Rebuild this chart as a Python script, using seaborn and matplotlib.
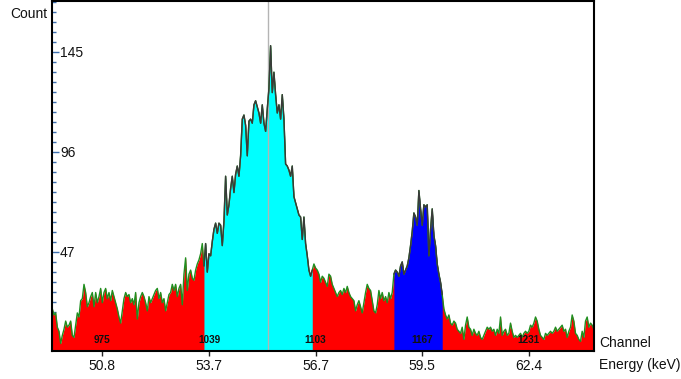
import numpy as np
import pandas as pd
import matplotlib
matplotlib.use("Agg")
import matplotlib.pyplot as plt
import seaborn as sns
from matplotlib.ticker import FixedLocator

# Spectrum: counts per channel, starting at channel 944
first_channel = 944
counts = [
    20, 19, 16, 17, 10, 8, 2, 6, 9, 13, 10, 11, 13, 6, 5, 11, 17, 15,
    23, 24, 31, 27, 20, 22, 25, 27, 20, 27,
    22, 25, 29, 22, 27, 29, 24, 27, 23, 28,
    25, 22, 19, 15, 12, 18, 24, 27, 25, 26,
    22, 24, 21, 27, 14, 22, 25, 27, 25, 22,
    18, 25, 22, 24, 26, 28, 29, 24, 27, 22,
    24, 18, 22, 26, 27, 31, 28, 31, 25, 29,
    31, 21, 36, 44, 28, 36, 38, 34, 33, 38,
    41, 43, 46, 51,
    40, 51, 37, 46, 45, 52, 58, 61, 56, 61,
    60, 50, 62, 84, 65, 70, 78, 84, 76, 85,
    89, 84, 94, 112, 114, 109, 94, 111, 112, 110,
    119, 121, 118, 115, 110, 119, 110, 106, 117, 127,
    148, 125, 135, 124, 115, 119, 112, 124, 112, 90,
    89, 87, 84, 89, 74, 71, 68, 65, 64, 53,
    64, 51, 45, 38, 35, 38,
    41, 39, 38, 36, 32, 35, 34, 32, 30, 36,
    35, 31, 29, 27, 25, 27, 28, 26, 29, 27,
    30, 27, 25, 24, 23, 18, 21, 23, 20, 17,
    22, 27, 31, 29, 28, 23, 18, 17, 21, 28,
    24, 27, 23, 25, 22, 27, 24, 27,
    36, 38, 37, 35, 40, 42, 36, 38, 40, 44,
    50, 57, 66, 64, 60, 77, 68, 60, 70, 69,
    70, 45, 58, 68, 55, 50, 41, 36, 32, 26,
    19, 16, 14, 16, 12, 11, 13, 12, 9, 8,
    7, 10, 4, 11, 15, 10, 9, 6, 9, 7,
    6, 8, 5, 4, 6, 8, 10, 9, 10, 8,
    9, 6, 9, 7, 15, 6, 8, 9, 6, 7,
    12, 8, 5, 6, 5, 6, 7, 5, 7, 8,
    7, 8, 11, 10, 12, 15, 13, 9, 6, 5,
    4, 7, 6, 7, 8, 7, 8, 10, 8, 9,
    10, 11, 8, 9, 5, 8, 10, 16, 13, 7,
    6, 4, 3, 8, 5, 13, 15, 10, 12, 11,
    9,
]
channels = np.arange(first_channel, first_channel + len(counts))

# Regions of interest (channel ranges) and the cursor position
roi_cyan = (1036, 1101)
roi_blue = (1150, 1179)
cursor_channel = 1074.6

tick_channels = [975, 1039, 1103, 1167, 1231]
energy_labels = ["50.8", "53.7", "56.7", "59.5", "62.4"]
count_ticks = [47, 96, 145]

sns.set_style("white")
plt.rcParams["font.family"] = ["Liberation Sans", "DejaVu Sans"]

W, H = 681, 379
fig = plt.figure(figsize=(W / 100, H / 100), dpi=100)
ax = fig.add_axes([51.5 / W, 28 / H, 542 / W, 350 / H])

spec = pd.DataFrame({"channel": channels, "count": counts})
cyan_mask = spec["channel"].between(*roi_cyan)
blue_mask = spec["channel"].between(*roi_blue)

# Filled spectrum with highlighted regions
ax.fill_between(spec["channel"], spec["count"], -5, color="#ff0000", lw=0, zorder=1)
for mask, col in [(cyan_mask, "#00ffff"), (blue_mask, "#0000ff")]:
    part = spec[mask]
    ax.fill_between(part["channel"], part["count"], -5, color=col, lw=0, zorder=1.1)

ax.axvline(cursor_channel, color="#b4b4b4", lw=1, zorder=1.5)

# Outline: green over the background, dark grey over the regions
sns.lineplot(data=spec, x="channel", y="count", color="#1f8f1f", lw=1, ax=ax, zorder=2)
for mask in (cyan_mask, blue_mask):
    sns.lineplot(data=spec[mask], x="channel", y="count", color="#3a3a3a", lw=1,
                 ax=ax, zorder=2.1)

ax.set_xlim(944.5, 1269.8)
ax.set_ylim(-1.67, 169.9)
ax.set_xlabel("")
ax.set_ylabel("")

for sp in ax.spines.values():
    sp.set_visible(True)
    sp.set_color("black")
    sp.set_linewidth(1.5)
    sp.set_zorder(3)

# X axis: energy labels below, channel numbers inside
ax.xaxis.set_major_locator(FixedLocator(tick_channels))
ax.set_xticklabels(energy_labels)
ax.xaxis.set_minor_locator(FixedLocator(np.arange(tick_channels[0] - 6.4 * 5, 1270, 6.4)))
ax.tick_params(axis="x", which="major", direction="inout", length=7, width=1,
               color="#222222", pad=2.2, labelsize=10, bottom=True, labelcolor="#111111")
ax.tick_params(axis="x", which="minor", direction="in", length=3, width=1,
               color="#3d6fae", bottom=True)

for ch in tick_channels:
    ax.text(ch, 0.031, str(ch), transform=ax.get_xaxis_transform(), ha="center",
            va="center", fontsize=7.2, fontweight="bold", color="#111111", zorder=5)

# Y axis: labels inside the frame
ax.yaxis.set_major_locator(FixedLocator(count_ticks))
ax.yaxis.set_minor_locator(FixedLocator(np.arange(count_ticks[0] - 4.9 * 9, 170, 4.9)))
ax.tick_params(axis="y", which="major", direction="in", length=5, width=1,
               color="#3d6fae", pad=-6.1, labelsize=10, left=True, labelcolor="#111111")
ax.tick_params(axis="y", which="minor", direction="in", length=3, width=1,
               color="#3d6fae", left=True)
plt.setp(ax.get_yticklabels(), ha="left")

fig.text(47 / W, 1 - 14.5 / H, "Count", ha="right", va="center", fontsize=10, color="#111111")
fig.text(599 / W, 1 - 342.7 / H, "Channel", ha="left", va="center", fontsize=10, color="#111111")
fig.text(599 / W, 1 - 364.5 / H, "Energy (keV)", ha="left", va="center", fontsize=10,
         color="#111111")

fig.savefig("out.png", dpi=100)
